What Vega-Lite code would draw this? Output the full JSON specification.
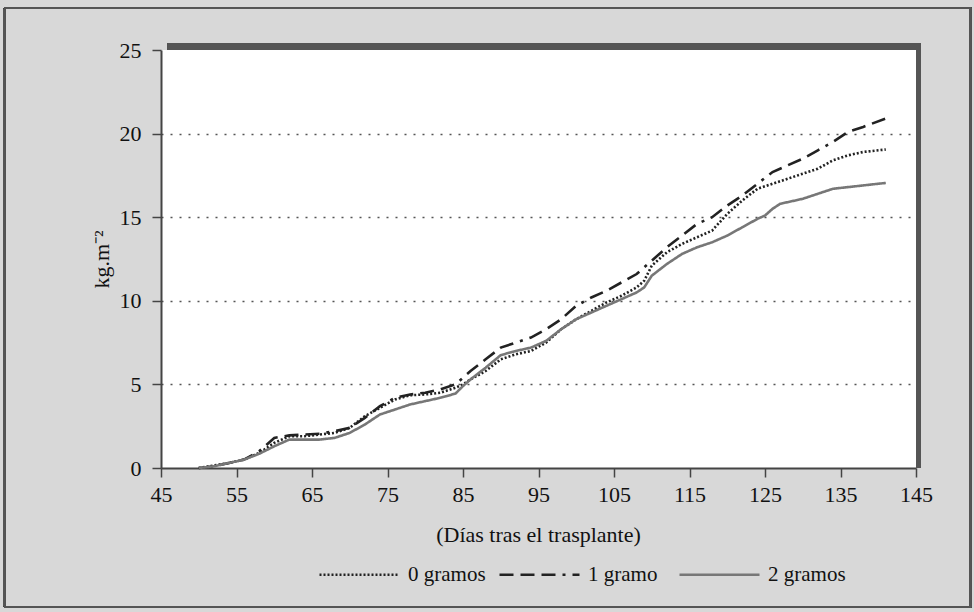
{
  "$schema": "https://vega.github.io/schema/vega-lite/v6.json",
  "width": 755,
  "height": 418,
  "autosize": {"type": "none"},
  "padding": {"left": 161, "top": 50, "right": 58, "bottom": 144},
  "background": "#d8d8d8",
  "config": {
    "view": {"fill": "#ffffff", "stroke": null},
    "font": "Liberation Serif"
  },
  "datasets": {
    "curvas": [
      {"d": 50, "v": 0, "s": "0 gramos"}, {"d": 52, "v": 0.15, "s": "0 gramos"}, {"d": 54, "v": 0.3, "s": "0 gramos"}, {"d": 56, "v": 0.5, "s": "0 gramos"}, {"d": 58, "v": 0.9, "s": "0 gramos"}, {"d": 60, "v": 1.5, "s": "0 gramos"}, {"d": 62, "v": 1.9, "s": "0 gramos"}, {"d": 64, "v": 1.9, "s": "0 gramos"}, {"d": 66, "v": 2.0, "s": "0 gramos"}, {"d": 68, "v": 2.1, "s": "0 gramos"}, {"d": 70, "v": 2.4, "s": "0 gramos"}, {"d": 72, "v": 3.1, "s": "0 gramos"}, {"d": 74, "v": 3.6, "s": "0 gramos"}, {"d": 76, "v": 4.1, "s": "0 gramos"}, {"d": 78, "v": 4.35, "s": "0 gramos"}, {"d": 80, "v": 4.4, "s": "0 gramos"}, {"d": 82, "v": 4.5, "s": "0 gramos"}, {"d": 84, "v": 4.8, "s": "0 gramos"}, {"d": 85, "v": 5.0, "s": "0 gramos"}, {"d": 86, "v": 5.3, "s": "0 gramos"}, {"d": 88, "v": 5.8, "s": "0 gramos"}, {"d": 90, "v": 6.5, "s": "0 gramos"}, {"d": 92, "v": 6.8, "s": "0 gramos"}, {"d": 94, "v": 7.0, "s": "0 gramos"}, {"d": 96, "v": 7.5, "s": "0 gramos"}, {"d": 98, "v": 8.3, "s": "0 gramos"}, {"d": 100, "v": 8.9, "s": "0 gramos"}, {"d": 102, "v": 9.4, "s": "0 gramos"}, {"d": 104, "v": 9.9, "s": "0 gramos"}, {"d": 106, "v": 10.3, "s": "0 gramos"}, {"d": 108, "v": 10.8, "s": "0 gramos"}, {"d": 109, "v": 11.2, "s": "0 gramos"}, {"d": 110, "v": 12.1, "s": "0 gramos"}, {"d": 112, "v": 12.9, "s": "0 gramos"}, {"d": 114, "v": 13.4, "s": "0 gramos"}, {"d": 116, "v": 13.8, "s": "0 gramos"}, {"d": 118, "v": 14.2, "s": "0 gramos"}, {"d": 120, "v": 15.2, "s": "0 gramos"}, {"d": 122, "v": 16.0, "s": "0 gramos"}, {"d": 124, "v": 16.7, "s": "0 gramos"}, {"d": 126, "v": 17.0, "s": "0 gramos"}, {"d": 128, "v": 17.3, "s": "0 gramos"}, {"d": 130, "v": 17.6, "s": "0 gramos"}, {"d": 132, "v": 17.9, "s": "0 gramos"}, {"d": 134, "v": 18.4, "s": "0 gramos"}, {"d": 136, "v": 18.7, "s": "0 gramos"}, {"d": 138, "v": 18.9, "s": "0 gramos"}, {"d": 141, "v": 19.05, "s": "0 gramos"},
      {"d": 50, "v": 0, "s": "1 gramo"}, {"d": 52, "v": 0.1, "s": "1 gramo"}, {"d": 54, "v": 0.3, "s": "1 gramo"}, {"d": 56, "v": 0.5, "s": "1 gramo"}, {"d": 58, "v": 1.0, "s": "1 gramo"}, {"d": 60, "v": 1.8, "s": "1 gramo"}, {"d": 62, "v": 1.95, "s": "1 gramo"}, {"d": 64, "v": 2.0, "s": "1 gramo"}, {"d": 66, "v": 2.05, "s": "1 gramo"}, {"d": 68, "v": 2.2, "s": "1 gramo"}, {"d": 70, "v": 2.4, "s": "1 gramo"}, {"d": 72, "v": 3.0, "s": "1 gramo"}, {"d": 74, "v": 3.7, "s": "1 gramo"}, {"d": 76, "v": 4.2, "s": "1 gramo"}, {"d": 78, "v": 4.4, "s": "1 gramo"}, {"d": 80, "v": 4.5, "s": "1 gramo"}, {"d": 82, "v": 4.7, "s": "1 gramo"}, {"d": 84, "v": 5.0, "s": "1 gramo"}, {"d": 85, "v": 5.4, "s": "1 gramo"}, {"d": 86, "v": 5.8, "s": "1 gramo"}, {"d": 88, "v": 6.5, "s": "1 gramo"}, {"d": 90, "v": 7.2, "s": "1 gramo"}, {"d": 92, "v": 7.5, "s": "1 gramo"}, {"d": 94, "v": 7.8, "s": "1 gramo"}, {"d": 96, "v": 8.3, "s": "1 gramo"}, {"d": 98, "v": 8.9, "s": "1 gramo"}, {"d": 100, "v": 9.7, "s": "1 gramo"}, {"d": 102, "v": 10.2, "s": "1 gramo"}, {"d": 104, "v": 10.6, "s": "1 gramo"}, {"d": 106, "v": 11.1, "s": "1 gramo"}, {"d": 108, "v": 11.6, "s": "1 gramo"}, {"d": 110, "v": 12.4, "s": "1 gramo"}, {"d": 112, "v": 13.2, "s": "1 gramo"}, {"d": 114, "v": 13.9, "s": "1 gramo"}, {"d": 116, "v": 14.6, "s": "1 gramo"}, {"d": 118, "v": 15.0, "s": "1 gramo"}, {"d": 120, "v": 15.7, "s": "1 gramo"}, {"d": 122, "v": 16.3, "s": "1 gramo"}, {"d": 124, "v": 17.0, "s": "1 gramo"}, {"d": 126, "v": 17.7, "s": "1 gramo"}, {"d": 128, "v": 18.1, "s": "1 gramo"}, {"d": 130, "v": 18.5, "s": "1 gramo"}, {"d": 132, "v": 19.0, "s": "1 gramo"}, {"d": 134, "v": 19.5, "s": "1 gramo"}, {"d": 136, "v": 20.1, "s": "1 gramo"}, {"d": 138, "v": 20.4, "s": "1 gramo"}, {"d": 141, "v": 20.9, "s": "1 gramo"},
      {"d": 50, "v": 0, "s": "2 gramos"}, {"d": 52, "v": 0.1, "s": "2 gramos"}, {"d": 54, "v": 0.3, "s": "2 gramos"}, {"d": 56, "v": 0.5, "s": "2 gramos"}, {"d": 58, "v": 0.85, "s": "2 gramos"}, {"d": 60, "v": 1.3, "s": "2 gramos"}, {"d": 62, "v": 1.7, "s": "2 gramos"}, {"d": 64, "v": 1.7, "s": "2 gramos"}, {"d": 66, "v": 1.7, "s": "2 gramos"}, {"d": 68, "v": 1.8, "s": "2 gramos"}, {"d": 70, "v": 2.1, "s": "2 gramos"}, {"d": 72, "v": 2.6, "s": "2 gramos"}, {"d": 74, "v": 3.2, "s": "2 gramos"}, {"d": 76, "v": 3.5, "s": "2 gramos"}, {"d": 78, "v": 3.8, "s": "2 gramos"}, {"d": 80, "v": 4.0, "s": "2 gramos"}, {"d": 82, "v": 4.2, "s": "2 gramos"}, {"d": 84, "v": 4.45, "s": "2 gramos"}, {"d": 85, "v": 4.9, "s": "2 gramos"}, {"d": 86, "v": 5.3, "s": "2 gramos"}, {"d": 88, "v": 6.0, "s": "2 gramos"}, {"d": 90, "v": 6.75, "s": "2 gramos"}, {"d": 92, "v": 7.0, "s": "2 gramos"}, {"d": 94, "v": 7.2, "s": "2 gramos"}, {"d": 96, "v": 7.6, "s": "2 gramos"}, {"d": 98, "v": 8.3, "s": "2 gramos"}, {"d": 100, "v": 8.9, "s": "2 gramos"}, {"d": 102, "v": 9.3, "s": "2 gramos"}, {"d": 104, "v": 9.7, "s": "2 gramos"}, {"d": 106, "v": 10.1, "s": "2 gramos"}, {"d": 108, "v": 10.5, "s": "2 gramos"}, {"d": 109, "v": 10.8, "s": "2 gramos"}, {"d": 110, "v": 11.5, "s": "2 gramos"}, {"d": 112, "v": 12.2, "s": "2 gramos"}, {"d": 114, "v": 12.8, "s": "2 gramos"}, {"d": 116, "v": 13.2, "s": "2 gramos"}, {"d": 118, "v": 13.5, "s": "2 gramos"}, {"d": 120, "v": 13.9, "s": "2 gramos"}, {"d": 122, "v": 14.4, "s": "2 gramos"}, {"d": 124, "v": 14.9, "s": "2 gramos"}, {"d": 125, "v": 15.1, "s": "2 gramos"}, {"d": 126, "v": 15.5, "s": "2 gramos"}, {"d": 127, "v": 15.8, "s": "2 gramos"}, {"d": 130, "v": 16.1, "s": "2 gramos"}, {"d": 132, "v": 16.4, "s": "2 gramos"}, {"d": 134, "v": 16.7, "s": "2 gramos"}, {"d": 136, "v": 16.8, "s": "2 gramos"}, {"d": 138, "v": 16.9, "s": "2 gramos"}, {"d": 141, "v": 17.05, "s": "2 gramos"}
    ]
  },
  "data": {"name": "curvas"},
  "resolve": {"axis": {"x": "independent", "y": "independent"}},
  "layer": [
    {
      "mark": {"type": "rect", "fill": null, "stroke": "#555555", "strokeWidth": 1.5},
      "encoding": {
        "x": {"datum": 24.3, "type": "quantitative", "axis": null, "scale": {"domain": [45, 145], "nice": false}},
        "x2": {"datum": 152.2},
        "y": {"datum": -8.3, "type": "quantitative", "axis": null, "scale": {"domain": [0, 25], "nice": false}},
        "y2": {"datum": 27.5}
      }
    },
    {
      "mark": {"type": "rect", "fill": "#555555"},
      "encoding": {
        "x": {"datum": 45.9, "type": "quantitative", "axis": null},
        "x2": {"datum": 145.65},
        "y": {"datum": 25, "type": "quantitative", "axis": null},
        "y2": {"datum": 25.42}
      }
    },
    {
      "mark": {"type": "rect", "fill": "#555555"},
      "encoding": {
        "x": {"datum": 145, "type": "quantitative", "axis": null},
        "x2": {"datum": 145.65},
        "y": {"datum": 0, "type": "quantitative", "axis": null},
        "y2": {"datum": 25.42}
      }
    },
    {
      "mark": {"type": "line", "strokeWidth": 2.6},
      "encoding": {
        "x": {
          "field": "d", "type": "quantitative",
          "scale": {"domain": [45, 145], "nice": false},
          "axis": {
            "values": [45, 55, 65, 75, 85, 95, 105, 115, 125, 135, 145],
            "title": "(Días tras el trasplante)",
            "grid": false,
            "domainColor": "#444444", "domainWidth": 2,
            "tickColor": "#444444", "tickWidth": 1.5, "tickSize": 9,
            "labelFont": "Liberation Serif", "labelFontSize": 22, "labelColor": "#111111", "labelPadding": 7,
            "labelFlush": false,
            "titleFont": "Liberation Serif", "titleFontSize": 22, "titleFontWeight": "normal", "titleColor": "#111111",
            "titleX": 377, "titleY": 66, "titleBaseline": "middle", "titleAnchor": null, "titleAlign": "center"
          }
        },
        "y": {
          "field": "v", "type": "quantitative",
          "scale": {"domain": [0, 25], "nice": false},
          "axis": {
            "values": [0, 5, 10, 15, 20, 25],
            "title": "kg.m⁻²",
            "grid": true, "gridDash": [2, 7], "gridColor": "#555555", "gridWidth": 1.4,
            "gridOpacity": {"condition": {"test": "datum.value == 0 || datum.value == 25", "value": 0}, "value": 1},
            "domainColor": "#444444", "domainWidth": 2,
            "tickColor": "#444444", "tickWidth": 1.5, "tickSize": 9,
            "labelFont": "Liberation Serif", "labelFontSize": 22, "labelColor": "#111111", "labelPadding": 11,
            "labelFlush": false,
            "titleFont": "Liberation Serif", "titleFontSize": 22, "titleFontWeight": "normal", "titleColor": "#111111",
            "titleX": -60, "titleY": 209, "titleAngle": -90, "titleBaseline": "middle", "titleAlign": "center", "titleAnchor": null
          }
        },
        "color": {
          "field": "s", "type": "nominal",
          "scale": {"domain": ["0 gramos", "1 gramo", "2 gramos"], "range": ["#222222", "#222222", "#777777"]},
          "legend": {
            "title": null, "orient": "none", "direction": "horizontal",
            "legendX": 157, "legendY": 483, "gridAlign": "all",
            "symbolType": "stroke", "symbolSize": 6400, "symbolStrokeWidth": 2.5,
            "labelFont": "Liberation Serif", "labelFontSize": 21, "labelColor": "#111111",
            "labelOffset": 7, "columnPadding": 8
          }
        },
        "strokeDash": {
          "field": "s", "type": "nominal",
          "scale": {"domain": ["0 gramos", "1 gramo", "2 gramos"], "range": [[2, 2], [14, 7, 14, 7, 14, 7, 3, 7], [1, 0]]},
          "legend": {
            "title": null, "orient": "none", "direction": "horizontal",
            "legendX": 157, "legendY": 483, "gridAlign": "all",
            "symbolType": "stroke", "symbolSize": 6400, "symbolStrokeWidth": 2.5,
            "labelFont": "Liberation Serif", "labelFontSize": 21, "labelColor": "#111111",
            "labelOffset": 7, "columnPadding": 8
          }
        }
      }
    }
  ]
}
